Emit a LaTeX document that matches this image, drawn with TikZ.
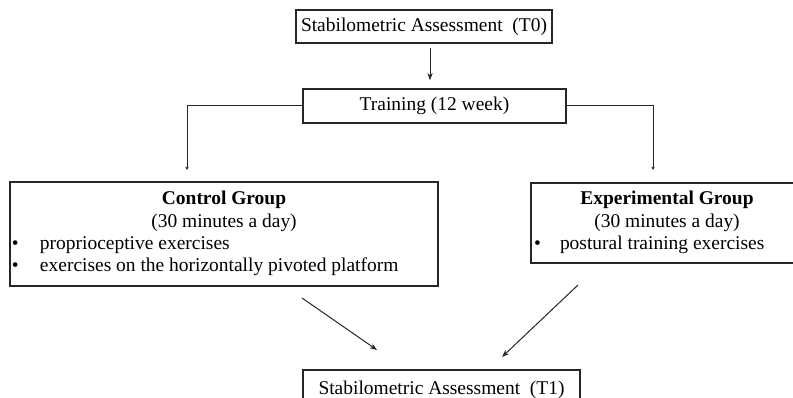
\documentclass[tikz,border=0pt]{standalone}
\usepackage{fontspec}
\setmainfont{Liberation Serif}
\usetikzlibrary{arrows.meta}
\begin{document}
\begin{tikzpicture}[x=0.75pt,y=-0.75pt,
  box/.style={draw=black!85,line width=0.85pt,inner sep=0pt,outer sep=0pt},
  txt/.style={inner sep=0pt,outer sep=0pt,font=\fontsize{14.6pt}{17pt}\selectfont,text=black},
  con/.style={draw=black!85,line width=0.75pt},
  arr/.style={con,-{Stealth[length=5.5pt,width=4pt]}},
  smallarr/.style={con,-{Stealth[length=2.5pt,width=2.5pt]}}]
\useasboundingbox (0,0) rectangle (793,398);
\clip (0,0) rectangle (793,398);
% boxes
\node[box,txt,minimum width=256*0.75pt,minimum height=33*0.75pt] (t0) at (424,26.5) {Stabilometric Assessment\ \ (T0)};
\node[box,txt,minimum width=263*0.75pt,minimum height=34*0.75pt] (tr) at (434.5,106) {Training (12 week)};
\node[box,minimum width=428*0.75pt,minimum height=104*0.75pt] (cg) at (224,234) {};
\node[box,minimum width=266*0.75pt,minimum height=80*0.75pt] (eg) at (664,223) {};
\node[box,txt,minimum width=277*0.75pt,minimum height=40*0.75pt] (t1) at (441.5,390) {Stabilometric Assessment\ \ (T1)};
% control group text
\node[txt,anchor=base,font=\fontsize{14.6pt}{17pt}\selectfont\bfseries] (cgt) at (224,205) {Control Group};
\node[txt,anchor=base] (cgd) at (224,228) {(30 minutes a day)};
\node[txt,anchor=base west] (cgb1) at (12,250) {\textbullet};
\node[txt,anchor=base west] (cgl1) at (40,250) {proprioceptive exercises};
\node[txt,anchor=base west] (cgb2) at (12,272) {\textbullet};
\node[txt,anchor=base west] (cgl2) at (40,272) {exercises on the horizontally pivoted platform};
% experimental group text
\node[txt,anchor=base,font=\fontsize{14.6pt}{17pt}\selectfont\bfseries] (egt) at (667,205) {Experimental Group};
\node[txt,anchor=base] (egd) at (667,228) {(30 minutes a day)};
\node[txt,anchor=base west] (egb1) at (534,250) {\textbullet};
\node[txt,anchor=base west] (egl1) at (560,250) {postural training exercises};
% connector ends
\coordinate (cl) at (187,170);
\coordinate (cr) at (653,170);
\coordinate (d1s) at (302,298);
\coordinate (d1e) at (377,350);
\coordinate (d2s) at (578,285);
\coordinate (d2e) at (502,357);
% connectors
\draw[arr,shorten <=3.75pt,shorten >=6.5pt] (t0.south -| 430,0) -- (tr.north -| 430,0);
\draw[smallarr] (tr.west) -| (cl);
\draw[smallarr] (tr.east) -| (cr);
\draw[arr] (d1s) -- (d1e);
\draw[arr] (d2s) -- (d2e);
\end{tikzpicture}
\end{document}
